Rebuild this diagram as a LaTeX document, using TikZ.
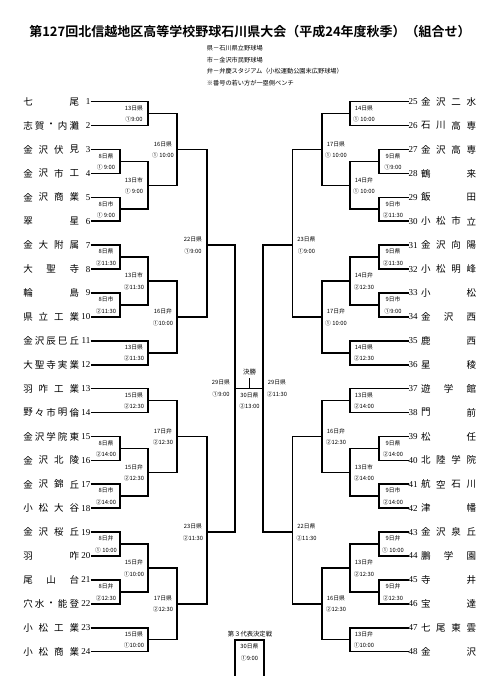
\documentclass[tikz,border=0pt]{standalone}
\usepackage{fontspec}
\setmainfont{Liberation Serif}
\newfontfamily\cjk{Noto Sans CJK JP}[BoldFont={Noto Sans CJK JP Bold}]
\tikzset{
 br/.style={line width=1.6pt, line join=miter},
 nm/.style={font=\cjk\fontsize{9.5}{10}\selectfont, inner sep=0pt},
 num/.style={font=\fontsize{9}{10}\selectfont, inner sep=0pt},
 lab/.style={font=\cjk\fontsize{5.8}{11.5}\selectfont, align=center, inner sep=0pt},
 leg/.style={font=\cjk\fontsize{6.2}{7}\selectfont, inner sep=0pt, anchor=west},
}
\newcommand\TL[3]{\pgfmathsetmacro\yy{101.7+23.91*(#1-1)}
 \foreach \ch [count=\i] in {#3} {\pgfmathsetmacro\xx{28.05+(\i-1)*46.2/(#2-1)}
   \node[nm] (nm#1-\i) at (\xx,\yy) {\ch};}
 \node[num,anchor=east] (t#1) at (90.5,\yy) {#1};}
\newcommand\TR[3]{\pgfmathsetmacro\yy{101.7+23.91*(#1-25)}
 \foreach \ch [count=\i] in {#3} {\pgfmathsetmacro\xx{425.75+(\i-1)*45.5/(#2-1)}
   \node[nm] (nm#1-\i) at (\xx,\yy) {\ch};}
 \node[num,anchor=west] (t#1) at (408.5,\yy) {#1};}
\newcommand\ML[7]{\coordinate (#1) at (#2,#3);
 \draw[br] (#4) -| (#1) |- (#5);
 \node[lab] (lb#1) at ({#2-14},{#3+0.3}) {#6\\#7};}
\newcommand\MR[7]{\coordinate (#1) at (#2,#3);
 \draw[br] (#4) -| (#1) |- (#5);
 \node[lab] (lb#1) at ({#2+14},{#3+0.3}) {#6\\#7};}
\begin{document}
\begin{tikzpicture}[x=1pt,y=-1pt]
\fill[white] (0,0) rectangle (496,700);
\useasboundingbox (0,0) rectangle (496,700);
% title and legend
\node[font=\cjk\bfseries\fontsize{13}{14}\selectfont, inner sep=0pt] (title) at (250,31.7) {第127回北信越地区高等学校野球石川県大会（平成24年度秋季）（組合せ）};
\node[leg] (lg1) at (206.7,48.3) {県－石川県立野球場};
\node[leg] (lg2) at (206.7,60) {市－金沢市民野球場};
\node[leg] (lg3) at (206.7,71.3) {弁－弁慶スタジアム（小松運動公園末広野球場）};
\node[leg] (lg4) at (206.7,82.7) {※番号の若い方が一塁側ベンチ};
% left teams
\TL{1}{2}{七,尾}
\TL{2}{5}{志,賀,・,内,灘}
\TL{3}{4}{金,沢,伏,見}
\TL{4}{4}{金,沢,市,工}
\TL{5}{4}{金,沢,商,業}
\TL{6}{2}{翠,星}
\TL{7}{4}{金,大,附,属}
\TL{8}{3}{大,聖,寺}
\TL{9}{2}{輪,島}
\TL{10}{4}{県,立,工,業}
\TL{11}{5}{金,沢,辰,巳,丘}
\TL{12}{5}{大,聖,寺,実,業}
\TL{13}{4}{羽,咋,工,業}
\TL{14}{5}{野,々,市,明,倫}
\TL{15}{5}{金,沢,学,院,東}
\TL{16}{4}{金,沢,北,陵}
\TL{17}{4}{金,沢,錦,丘}
\TL{18}{4}{小,松,大,谷}
\TL{19}{4}{金,沢,桜,丘}
\TL{20}{2}{羽,咋}
\TL{21}{3}{尾,山,台}
\TL{22}{5}{穴,水,・,能,登}
\TL{23}{4}{小,松,工,業}
\TL{24}{4}{小,松,商,業}
% right teams
\TR{25}{4}{金,沢,二,水}
\TR{26}{4}{石,川,高,専}
\TR{27}{4}{金,沢,高,専}
\TR{28}{2}{鶴,来}
\TR{29}{2}{飯,田}
\TR{30}{4}{小,松,市,立}
\TR{31}{4}{金,沢,向,陽}
\TR{32}{4}{小,松,明,峰}
\TR{33}{2}{小,松}
\TR{34}{3}{金,沢,西}
\TR{35}{2}{鹿,西}
\TR{36}{2}{星,稜}
\TR{37}{3}{遊,学,館}
\TR{38}{2}{門,前}
\TR{39}{2}{松,任}
\TR{40}{4}{北,陸,学,院}
\TR{41}{4}{航,空,石,川}
\TR{42}{2}{津,幡}
\TR{43}{4}{金,沢,泉,丘}
\TR{44}{3}{鵬,学,園}
\TR{45}{2}{寺,井}
\TR{46}{2}{宝,達}
\TR{47}{4}{七,尾,東,雲}
\TR{48}{2}{金,沢}
% left bracket
\ML{mA}{148}{113.66}{t1.east}{t2.east}{13日県}{①9:00}
\ML{mB}{120}{161.48}{t3.east}{t4.east}{8日県}{① 9:00}
\ML{mC}{120}{209.3}{t5.east}{t6.east}{8日市}{① 9:00}
\ML{mD}{148}{185.39}{mB}{mC}{13日市}{① 9:00}
\ML{mE}{177}{149.52}{mA}{mD}{16日県}{① 10:00}
\ML{mF}{120}{257.12}{t7.east}{t8.east}{8日県}{②11:30}
\ML{mG}{120}{304.94}{t9.east}{t10.east}{8日市}{②11:30}
\ML{mH}{148}{281.03}{mF}{mG}{13日市}{②11:30}
\ML{mI}{148}{352.76}{t11.east}{t12.east}{13日県}{②11:30}
\ML{mJ}{177}{316.9}{mH}{mI}{16日弁}{①10:00}
\ML{mK}{207}{245}{mE}{mJ}{22日県}{①9:00}
\ML{mL}{148}{400.58}{t13.east}{t14.east}{15日県}{②12:30}
\ML{mM}{120}{448.4}{t15.east}{t16.east}{8日県}{②14:00}
\ML{mN}{120}{496.22}{t17.east}{t18.east}{8日市}{②14:00}
\ML{mO}{148}{472.31}{mM}{mN}{15日弁}{②12:30}
\ML{mP}{177}{436.44}{mL}{mO}{17日弁}{②12:30}
\ML{mQ}{120}{544.04}{t19.east}{t20.east}{8日弁}{① 10:00}
\ML{mR}{120}{591.86}{t21.east}{t22.east}{8日弁}{②12:30}
\ML{mS}{148}{567.95}{mQ}{mR}{15日弁}{①10:00}
\ML{mT}{148}{639.68}{t23.east}{t24.east}{15日県}{①10:00}
\ML{mU}{177}{603.8}{mS}{mT}{17日県}{②12:30}
\ML{mV}{207}{532}{mP}{mU}{23日県}{②11:30}
\ML{mW}{235}{388.3}{mK}{mV}{29日県}{①9:00}
% right bracket
\MR{ra}{350}{113.66}{t25.west}{t26.west}{14日県}{① 10:00}
\MR{rb}{379}{161.48}{t27.west}{t28.west}{9日県}{①9:00}
\MR{rc}{379}{209.3}{t29.west}{t30.west}{9日市}{②11:30}
\MR{rd}{350}{185.39}{rb}{rc}{14日弁}{① 10:00}
\MR{re}{322}{149.52}{ra}{rd}{17日県}{① 10:00}
\MR{rf}{379}{257.12}{t31.west}{t32.west}{9日県}{②11:30}
\MR{rg}{379}{304.94}{t33.west}{t34.west}{9日市}{①9:00}
\MR{rh}{350}{281.03}{rf}{rg}{14日弁}{②12:30}
\MR{ri}{350}{352.76}{t35.west}{t36.west}{14日県}{②12:30}
\MR{rj}{322}{316.9}{rh}{ri}{17日弁}{① 10:00}
\MR{rk}{292.5}{245}{re}{rj}{23日県}{①9:00}
\MR{rl}{350}{400.58}{t37.west}{t38.west}{13日県}{②14:00}
\MR{rm}{379}{448.4}{t39.west}{t40.west}{9日県}{②14:00}
\MR{rn}{379}{496.22}{t41.west}{t42.west}{9日市}{②14:00}
\MR{ro}{350}{472.31}{rm}{rn}{13日市}{②14:00}
\MR{rp}{322}{436.44}{rl}{ro}{16日弁}{②12:30}
\MR{rq}{379}{544.04}{t43.west}{t44.west}{9日弁}{① 10:00}
\MR{rr}{379}{591.86}{t45.west}{t46.west}{9日弁}{②12:30}
\MR{rs}{350}{567.95}{rq}{rr}{13日弁}{②12:30}
\MR{rt}{350}{639.68}{t47.west}{t48.west}{13日弁}{①10:00}
\MR{ru}{322}{603.8}{rs}{rt}{16日県}{②12:30}
\MR{rv}{292.5}{532}{rp}{ru}{22日県}{②11:30}
\MR{rw}{263}{388.3}{rk}{rv}{29日県}{②11:30}
% final
\draw[br] (mW) -- (rw);
\coordinate (fin) at (249.5,388.3);
\coordinate (fintop) at (249.5,377.7);
\draw[br] (fin) -- (fintop);
\node[lab,font=\cjk\fontsize{6.5}{7}\selectfont] (kessho) at (249.5,371.7) {決勝};
\node[lab] (lbfin) at (249.5,400.8) {30日県\\②13:00};
% third place
\node[lab,font=\cjk\fontsize{6.3}{7}\selectfont] (third) at (250,634) {第３代表決定戦};
\coordinate (p1) at (235,675.7);
\coordinate (p2) at (264,675.7);
\coordinate (p3) at (249.5,640);
\draw[br] (p1) |- (p3) -| (p2);
\node[lab] (lbthird) at (249.5,652.3) {30日県\\①9:00};
\end{tikzpicture}
\end{document}
